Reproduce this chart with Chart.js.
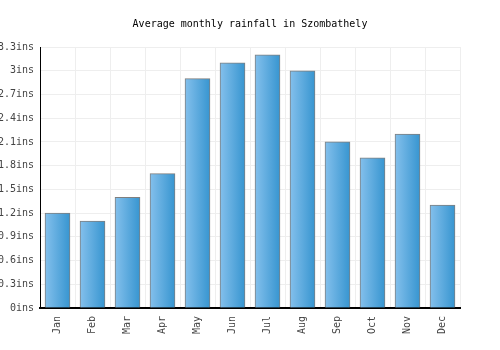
<!DOCTYPE html>
<html>
<head>
<meta charset="utf-8">
<script src="https://cdn.jsdelivr.net/npm/chart.js@4/dist/chart.umd.min.js"></script>
<style>
	html, body { margin: 0; padding: 0; background: #fff; }
	#wrap { width: 500px; height: 350px; }
</style>
</head>
<body>
<div id="wrap"><canvas id="rain"></canvas></div>
<script>
const months = ['Jan', 'Feb', 'Mar', 'Apr', 'May', 'Jun', 'Jul', 'Aug', 'Sep', 'Oct', 'Nov', 'Dec'];
const rainfall = [1.2, 1.1, 1.4, 1.7, 2.9, 3.1, 3.2, 3.0, 2.1, 1.9, 2.2, 1.3];
const yTicks = [0, 0.3, 0.6, 0.9, 1.2, 1.5, 1.8, 2.1, 2.4, 2.7, 3, 3.3];

const mono = 'DejaVu Sans Mono';
const BAR_W = 25;

// horizontal gradient per bar, light on the left, darker on the right
function barFill(context) {
	const chart = context.chart;
	const xs = chart.scales.x;
	if (!xs || !chart.chartArea) return '#5aa8e0';
	const center = xs.getPixelForValue(context.dataIndex);
	const left = center - BAR_W / 2;
	const g = chart.ctx.createLinearGradient(left, 0, left + BAR_W, 0);
	g.addColorStop(0, '#84c0ec');
	g.addColorStop(1, '#3795d0');
	return g;
}

new Chart(document.getElementById('rain'), {
	type: 'bar',
	data: {
		labels: months,
		datasets: [{
			data: rainfall,
			backgroundColor: barFill,
			borderColor: '#7f7f7f',
			borderWidth: 1,
			barThickness: BAR_W
		}]
	},
	options: {
		responsive: true,
		maintainAspectRatio: false,
		animation: false,
		layout: {
			padding: 0
		},
		scales: {
			x: {
				border: { color: '#000', width: 2 },
				grid: { color: '#eeeeee', drawTicks: false },
				ticks: {
					color: '#444',
					font: { family: mono, size: 10 },
					minRotation: 90,
					maxRotation: 90,
					padding: 8
				},
				afterFit(scale) { scale.height = 42; }
			},
			y: {
				min: 0,
				max: 3.3,
				border: { color: '#000', width: 1 },
				grid: { color: '#eeeeee', drawTicks: false },
				afterBuildTicks(scale) {
					scale.ticks = yTicks.map(v => ({ value: v }));
				},
				ticks: {
					color: '#444',
					font: { family: mono, size: 10 },
					padding: 6,
					callback: v => (+v.toFixed(1)) + 'ins'
				},
				afterFit(scale) { scale.width = 40; }
			},
			// empty right-hand strip so the title stays centred on the page
			yRight: {
				position: 'right',
				min: 0,
				max: 3.3,
				grid: { display: false },
				border: { display: false },
				ticks: { display: false },
				afterFit(scale) { scale.width = 40; }
			}
		},
		plugins: {
			legend: { display: false },
			tooltip: { enabled: false },
			title: {
				display: true,
				text: 'Average monthly rainfall in Szombathely',
				color: '#000',
				font: { family: mono, size: 10, weight: 'normal' },
				padding: { top: 18, bottom: 17 }
			}
		}
	}
});
</script>
</body>
</html>
